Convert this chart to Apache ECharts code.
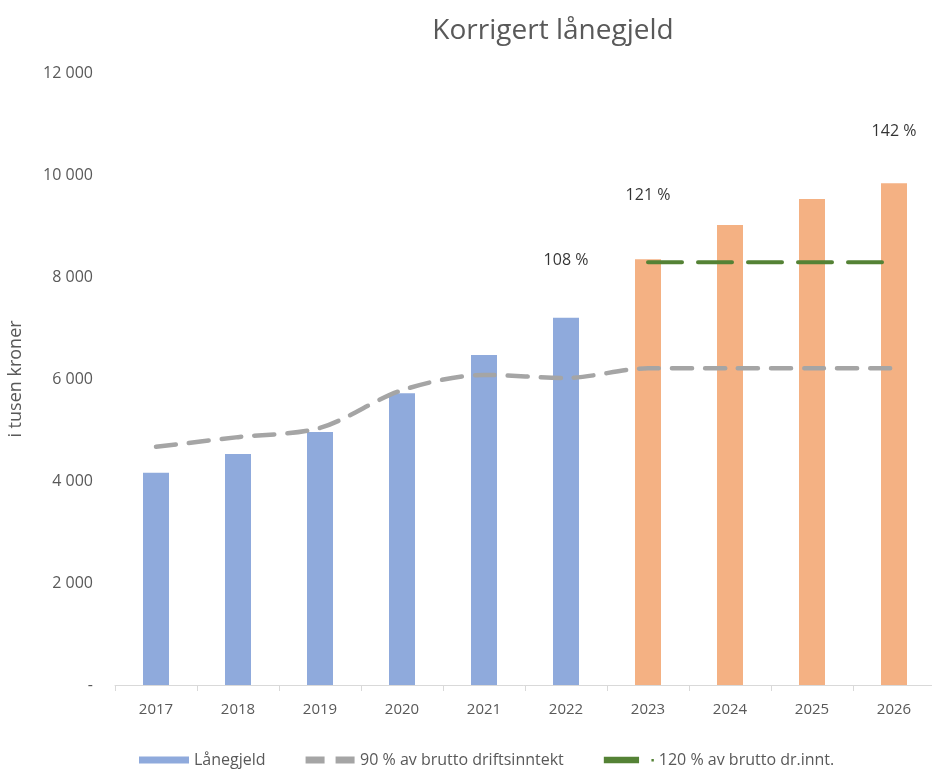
<!DOCTYPE html>
<html>
<head>
<meta charset="utf-8">
<title>Korrigert lånegjeld</title>
<script src="https://cdn.jsdelivr.net/npm/echarts@6/dist/echarts.min.js"></script>
<style>
  html, body { margin: 0; padding: 0; background: #fff; }
  #main { width: 932px; height: 769px; }
</style>
</head>
<body>
<div id="main"></div>
<script>
var years = ['2017', '2018', '2019', '2020', '2021', '2022', '2023', '2024', '2025', '2026'];
var laanegjeld = [4160, 4530, 4960, 5720, 6470, 7200, 8350, 9020, 9530, 9840];
var brutto90 = [4670, 4860, 5040, 5780, 6080, 6020, 6210, 6210, 6210, 6210];
var brutto120 = [null, null, null, null, null, null, 8290, 8290, 8290, 8290];
var pctPos = [null, null, null, null, null, 8330, 9590, null, null, 10860];
var pctText = ['', '', '', '', '', '108 %', '121 %', '', '', '142 %'];
var yTicks = [0, 2000, 4000, 6000, 8000, 10000, 12000];
var firstPrognoseYear = 6;

var font = '"Open Sans", "Noto Sans", sans-serif';
var grey = '#595959';

var myChart = echarts.init(document.getElementById('main'));

function fmtTick(v) {
    if (v == 0) return '-';
    return String(v).replace(/\B(?=(\d{3})+(?!\d))/g, ' ');
}

var option = {
    animation: false,
    textStyle: { fontFamily: font },
    title: {
        text: 'Korrigert lånegjeld',
        left: 548,
        top: 12,
        textAlign: 'center',
        textStyle: { fontFamily: font, fontSize: 28, fontWeight: 'normal', color: grey }
    },
    grid: { left: 115, right: -3, top: 73, bottom: 84, outerBoundsMode: 'none', containLabel: false },
    legend: {
        bottom: -4,
        left: 134,
        itemGap: 40,
        itemWidth: 50,
        itemHeight: 7,
        textStyle: { fontFamily: font, fontSize: 16, color: grey },
        data: [
            { name: 'Lånegjeld', icon: 'rect' },
            { name: '90 % av brutto driftsinntekt', icon: 'path://M0,0h19v7h-19z M30,0h19v7h-19z' },
            { name: '120 % av brutto dr.innt.', icon: 'path://M0,0h37v7h-37z M50,2.5h2.5v2.5h-2.5z' }
        ]
    },
    xAxis: {
        type: 'category',
        data: years,
        boundaryGap: true,
        axisLine: { lineStyle: { color: '#D9D9D9', width: 1 } },
        axisTick: { show: true, length: 6, lineStyle: { color: '#D9D9D9' } },
        axisLabel: { color: grey, fontSize: 15, margin: 17, fontFamily: font }
    },
    yAxis: {
        type: 'value',
        min: yTicks[0],
        max: yTicks[yTicks.length - 1],
        interval: 2000,
        name: 'i tusen kroner',
        nameLocation: 'middle',
        nameGap: 90,
        nameRotate: 90,
        nameTextStyle: { color: grey, fontSize: 18, fontFamily: font },
        axisLine: { show: false },
        axisTick: { show: false },
        splitLine: { show: false },
        axisLabel: { color: grey, fontSize: 16, margin: 22, fontFamily: font, formatter: fmtTick }
    },
    series: [{
        name: 'Lånegjeld',
        type: 'bar',
        barWidth: 26,
        itemStyle: { color: '#8FAADC' },
        data: laanegjeld.map(function (v, i) {
            return i >= firstPrognoseYear ? { value: v, itemStyle: { color: '#F4B183' } } : v;
        }),
        z: 2
    }, {
        name: '90 % av brutto driftsinntekt',
        type: 'line',
        smooth: 0.3,
        symbol: 'none',
        lineStyle: { color: '#A5A5A5', width: 4.5, type: [20, 13], cap: 'round' },
        itemStyle: { color: '#A5A5A5' },
        data: brutto90,
        z: 3
    }, {
        name: '120 % av brutto dr.innt.',
        type: 'line',
        symbol: 'none',
        lineStyle: { color: '#548235', width: 4, type: [34, 16], cap: 'round' },
        itemStyle: { color: '#548235' },
        data: brutto120,
        z: 3
    }, {
        name: 'pct',
        type: 'scatter',
        symbolSize: 0,
        silent: true,
        itemStyle: { color: 'transparent' },
        label: {
            show: true,
            position: 'inside',
            color: '#000',
            fontSize: 16,
            fontFamily: font,
            formatter: function (p) { return pctText[p.dataIndex]; }
        },
        data: pctPos,
        z: 4
    }]
};

myChart.setOption(option);

window.addEventListener('resize', function () {
    myChart.resize();
});
</script>
</body>
</html>
